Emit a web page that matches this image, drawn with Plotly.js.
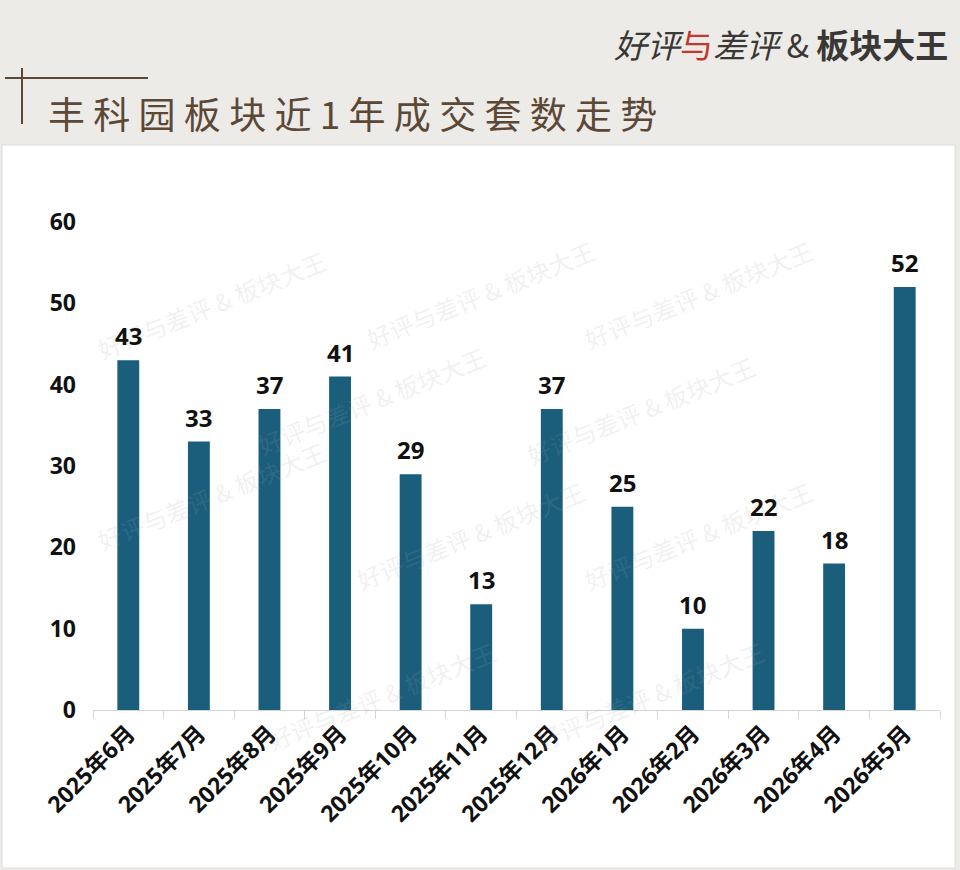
<!DOCTYPE html>
<html>
<head>
<meta charset="utf-8">
<script src="https://cdn.plot.ly/plotly-3.0.1.min.js"></script>
<style>html,body{margin:0;padding:0;background:#ecebe8;}</style>
</head>
<body>
<div id="chart" style="width:960px;height:870px;"></div>
<script>
const categories = ["2025年6月","2025年7月","2025年8月","2025年9月","2025年10月","2025年11月","2025年12月","2026年1月","2026年2月","2026年3月","2026年4月","2026年5月"];
const salesCount = [43, 33, 37, 41, 29, 13, 37, 25, 10, 22, 18, 52];
const yTicks = [0, 10, 20, 30, 40, 50, 60];
const titleText = "丰科园板块近1年成交套数走势";
const watermarkText = "好评与差评 & 板块大王";

const W = 960, H = 870, L = 93, R = 20, T = 222, B = 160;
const pw = W - L - R, ph = H - T - B;
const px = v => (v - L) / pw;
const py = v => (H - B - v) / ph;

const brown = "#5c4837";
const font = "Open Sans, Noto Sans CJK SC, sans-serif";

const annotations = [];
// faint watermarks
const wm = [[90,240],[480,230],[820,230],[250,400],[640,410],[90,560],[470,600],[820,600],[260,760],[650,760]];
wm.forEach(p => annotations.push({
  xref:"paper", yref:"paper", x:px(p[0]), y:py(p[1]), text:watermarkText, showarrow:false,
  textangle:-22, font:{family:"Noto Sans CJK SC", size:24, color:"rgba(160,160,160,0.16)"}
}));
// data labels
categories.forEach((c, i) => annotations.push({
  xref:"x", yref:"y", x:c, y:salesCount[i], yanchor:"bottom", yshift:6,
  text:String(salesCount[i]), showarrow:false,
  font:{family:font, size:24, color:"#111", weight:"bold"}
}));
// title
annotations.push({
  xref:"paper", yref:"paper", x:px(46), y:py(113), xanchor:"left", yanchor:"middle",
  text:titleText.split("").join(" "), showarrow:false,
  font:{family:"Noto Sans CJK SC", size:37, color:brown}
});
// logo
annotations.push({
  xref:"paper", yref:"paper", x:px(950), y:py(44), xanchor:"right", yanchor:"middle",
  text:"<i>好评</i><span style='color:#c0392b'>与</span><i>差评</i> & <b>板块大王</b>", showarrow:false,
  font:{family:"Noto Sans CJK SC", size:33, color:"#3a3836"}
});

const data = [{
  type:"bar", x:categories, y:salesCount,
  marker:{color:"#1a5e7c"},
  hoverinfo:"x+y"
}];

const layout = {
  width:W, height:H,
  margin:{l:L, r:R, t:T, b:B, pad:0},
  paper_bgcolor:"#ecebe8", plot_bgcolor:"rgba(0,0,0,0)",
  bargap:0.69,
  showlegend:false,
  xaxis:{
    type:"category", tickangle:-45, showgrid:false, zeroline:false,
    showline:true, linecolor:"#d4d4d4", linewidth:1,
    ticks:"outside", tickson:"boundaries", ticklen:8, tickcolor:"#d4d4d4",
    tickfont:{family:font, size:23, color:"#111", weight:"bold"}
  },
  yaxis:{
    range:[0,60], tickvals:yTicks, showgrid:false, zeroline:false, showline:false,
    ticks:"", ticklabelstandoff:16,
    tickfont:{family:font, size:23, color:"#111", weight:"bold"}
  },
  shapes:[
    {type:"rect", xref:"paper", yref:"paper", x0:px(2), x1:px(955), y0:py(145), y1:py(868),
     fillcolor:"#ffffff", line:{color:"#dcdcdc", width:1}, layer:"below"},
    {type:"line", xref:"paper", yref:"paper", x0:px(5), x1:px(148), y0:py(78), y1:py(78),
     line:{color:brown, width:2}},
    {type:"line", xref:"paper", yref:"paper", x0:px(22), x1:px(22), y0:py(68), y1:py(124),
     line:{color:brown, width:2}}
  ],
  annotations:annotations
};

Plotly.newPlot("chart", data, layout, {displayModeBar:false, staticPlot:true});
</script>
</body>
</html>
